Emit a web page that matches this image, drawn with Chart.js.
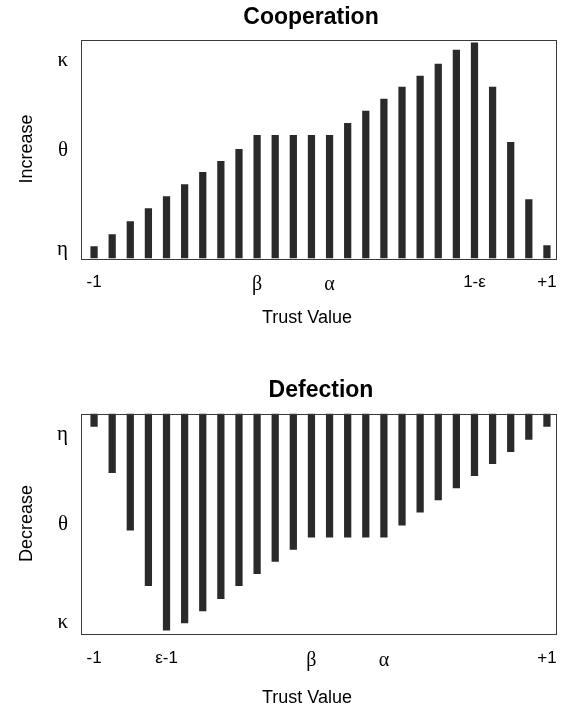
<!DOCTYPE html>
<html>
<head>
<meta charset="utf-8">
<script src="https://cdn.jsdelivr.net/npm/chart.js@4"></script>
<style>
  body { margin: 0; background: #fff; }
  .wrap { position: relative; width: 576px; }
</style>
</head>
<body>
<div class="wrap" style="height:340px"><canvas id="coopChart"></canvas></div>
<div class="wrap" style="height:369px"><canvas id="defChart"></canvas></div>
<script>
// 26 trust-value steps from -1 to +1
const coopLabels = ['-1', '', '', '', '', '', '', '', '', 'β', '', '', '', 'α', '', '', '', '', '', '', '', '1-ε', '', '', '', '+1'];
const defLabels  = ['-1', '', '', '', 'ε-1', '', '', '', '', '', '', '', 'β', '', '', '', 'α', '', '', '', '', '', '', '', '', '+1'];

// bar heights (same units as the y axis, 0..218)
const coopValues = [12, 24, 37, 50, 62, 74, 86, 97, 109, 123, 123, 123, 123, 123, 135, 147, 159, 171, 182, 194, 208, 215, 171, 116, 59, 13];
const defValues  = [13, 59, 116, 171, 215, 208, 196, 184, 171, 159, 147, 135, 123, 123, 123, 123, 123, 111, 98, 86, 74, 62, 50, 38, 26, 13];

// y tick marks
const coopTickValues = [9, 108, 197];
const coopTickLabels = ['η', 'θ', 'κ'];
const defTickValues  = [21, 110, 207];
const defTickLabels  = ['η', 'θ', 'κ'];

const yMax = 218;
const sans = 'Liberation Sans, Arial, sans-serif';
const serif = 'Liberation Serif, Times New Roman, serif';

// draws the box round the plot area
const framePlugin = {
  id: 'frame',
  afterDraw(chart, args, opts) {
    const a = chart.chartArea;
    const c = chart.ctx;
    c.save();
    c.strokeStyle = '#3a3a3a';
    c.lineWidth = 1;
    c.strokeRect(Math.round(a.left - opts.padLeft) + 0.5, Math.round(a.top) + 0.5,
                 Math.round(a.right - a.left + opts.padLeft), Math.round(a.bottom - a.top));
    c.restore();
  }
};

// nudges the title blocks sideways (the original titles are not centred on the canvas)
const titleShiftPlugin = {
  id: 'titleShift',
  afterLayout(chart, args, opts) {
    chart.boxes.forEach(b => {
      const t = b.options && b.options.text;
      if (typeof t === 'string' && opts[t] !== undefined) {
        b.left += opts[t];
        b.right += opts[t];
      }
    });
  }
};

function tickFont(ctx) {
  const label = ctx.tick && ctx.tick.label ? String(ctx.tick.label) : '';
  if (/[0-9]/.test(label)) return { family: sans, size: 17 };
  return { family: serif, size: 20 };
}

function makeChart(id, cfg) {
  const ctx = document.getElementById(id);
  const shifts = {};
  shifts[cfg.title] = cfg.titleShift;
  shifts['Trust Value'] = 29;
  return new Chart(ctx, {
    type: 'bar',
    data: {
      labels: cfg.labels,
      datasets: [{
        data: cfg.values,
        backgroundColor: '#2a2a2a',
        borderWidth: 0,
        barPercentage: 0.4,
        categoryPercentage: 1
      }]
    },
    plugins: [framePlugin, titleShiftPlugin],
    options: {
      responsive: true,
      maintainAspectRatio: false,
      animation: false,
      layout: { padding: { top: 0, right: 20, bottom: cfg.bottomPad, left: 0 } },
      plugins: {
        legend: { display: false },
        tooltip: { enabled: false },
        frame: { padLeft: 4 },
        titleShift: shifts,
        title: {
          display: true,
          text: cfg.title,
          color: '#000',
          font: { family: sans, size: 23, weight: 'bold' },
          padding: { top: cfg.titleTop, bottom: cfg.titleBottom }
        },
        subtitle: {
          display: true,
          position: 'bottom',
          text: 'Trust Value',
          color: '#000',
          font: { family: sans, size: 18 },
          padding: 0
        }
      },
      scales: {
        x: {
          grid: { display: false, drawTicks: false },
          border: { display: false },
          ticks: {
            color: '#000',
            autoSkip: false,
            maxRotation: 0,
            padding: cfg.tickPad,
            font: tickFont
          },
          afterFit(scale) { scale.height = cfg.xHeight; }
        },
        y: {
          min: 0,
          max: yMax,
          reverse: cfg.reverse,
          grid: { display: false, drawTicks: false },
          border: { display: false },
          afterBuildTicks(scale) {
            scale.ticks = cfg.tickValues.map(v => ({ value: v }));
          },
          ticks: {
            color: '#000',
            padding: 17,
            font: { family: serif, size: 21 },
            callback: (v) => cfg.tickLabels[cfg.tickValues.indexOf(v)]
          },
          title: {
            display: true,
            text: cfg.yTitle,
            color: '#000',
            font: { family: sans, size: 18 },
            padding: { top: 16, bottom: 0 }
          },
          afterFit(scale) { scale.width = 85; }
        }
      }
    }
  });
}

makeChart('coopChart', {
  title: 'Cooperation', yTitle: 'Increase',
  labels: coopLabels, values: coopValues,
  tickValues: coopTickValues, tickLabels: coopTickLabels,
  reverse: false, titleTop: 4, titleBottom: 8, titleShift: 33,
  xHeight: 49, tickPad: 14, bottomPad: 11
});
makeChart('defChart', {
  title: 'Defection', yTitle: 'Decrease',
  labels: defLabels, values: defValues,
  tickValues: defTickValues, tickLabels: defTickLabels,
  reverse: true, titleTop: 37, titleBottom: 9, titleShift: 43,
  xHeight: 54, tickPad: 15, bottomPad: 0
});
</script>
</body>
</html>
